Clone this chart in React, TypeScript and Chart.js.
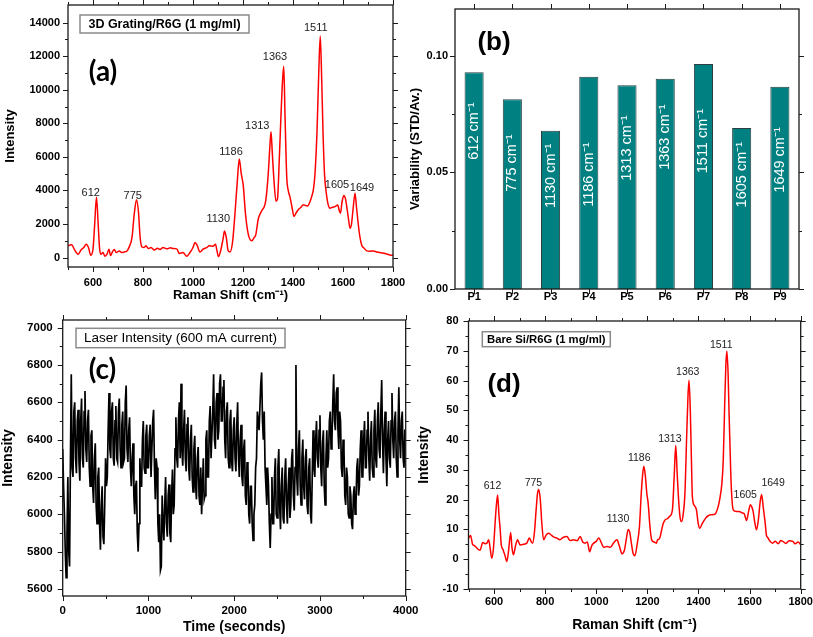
import React, { useEffect, useRef } from "react";
import { Chart, registerables } from "chart.js";

Chart.register(...registerables);

const SANS = "'Liberation Sans', Arial, Helvetica, sans-serif";
const CAL = "Lato, 'Open Sans', sans-serif";

// ---------------- (a) 3D grating spectrum ----------------
const gratingShift = [500, 508, 515, 525, 541, 552, 563, 573, 582, 591, 600, 606, 614, 620, 626, 631, 640, 648, 656, 664, 670, 678, 685, 693, 705, 715, 725, 735, 745, 756, 765, 774, 782, 788, 795, 805, 812, 821, 832, 845, 858, 868, 880, 895, 910, 921, 935, 945, 960, 975, 990, 1000, 1008, 1016, 1028, 1040, 1055, 1065, 1080, 1090, 1096, 1102, 1112, 1120, 1126, 1133, 1141, 1148, 1158, 1168, 1177, 1185, 1193, 1201, 1210, 1221, 1235, 1245, 1251, 1261, 1270, 1277, 1284, 1291, 1301, 1307, 1312, 1317, 1323, 1332, 1338, 1345, 1352, 1358, 1363, 1368, 1375, 1381, 1388, 1396, 1404, 1412, 1421, 1432, 1441, 1450, 1459, 1467, 1475, 1482, 1488, 1496, 1502, 1509, 1515, 1520, 1526, 1532, 1540, 1548, 1558, 1568, 1579, 1585, 1590, 1596, 1603, 1610, 1615, 1622, 1628, 1634, 1641, 1648, 1654, 1661, 1667, 1675, 1685, 1695, 1708, 1721, 1735, 1755, 1775, 1792, 1800];
const gratingIntensity = [700, 750, 760, 500, 200, 450, 600, 800, 600, 140, 500, 1800, 3600, 2200, 600, 200, 300, 80, 200, 500, 120, 350, 480, 300, 400, 300, 340, 380, 640, 1200, 2600, 3450, 2700, 1300, 650, 600, 700, 540, 600, 450, 550, 480, 600, 520, 580, 540, 520, 250, 300, 80, 350, 600, 900, 750, 340, 500, 600, 700, 680, 800, 400, 60, 500, 1100, 1580, 1200, 400, 340, 900, 2640, 4500, 5880, 5000, 4300, 2600, 1400, 1000, 1200, 1350, 2300, 2650, 2850, 3000, 3400, 5000, 6500, 7500, 6300, 4800, 3350, 3500, 5800, 8500, 10500, 11400, 8500, 4800, 4000, 3600, 3000, 2450, 2650, 2850, 3000, 3150, 3100, 3080, 3300, 3650, 4100, 5000, 7500, 10500, 13200, 10500, 7500, 5000, 4000, 3200, 2940, 3000, 3040, 3140, 2800, 2640, 3300, 3700, 3500, 3040, 2300, 1750, 2000, 3000, 3840, 3000, 2000, 1300, 740, 550, 400, 380, 400, 330, 280, 220, 140, 150];

const peakNames = ["612", "775", "1130", "1186", "1313", "1363", "1511", "1605", "1649"];
const gratingLabelShift = [591, 759, 1101, 1152, 1257, 1328, 1491, 1576, 1676];
const gratingLabelIntensity = [3840, 3680, 2300, 6280, 7840, 11940, 13680, 4300, 4140];

const shiftMajorTicks = [600, 800, 1000, 1200, 1400, 1600, 1800];
const shiftMinorTicks = [500, 700, 900, 1100, 1300, 1500, 1700];
const gratingMajorTicks = [0, 2000, 4000, 6000, 8000, 10000, 12000, 14000];
const gratingMinorTicks = [1000, 3000, 5000, 7000, 9000, 11000, 13000];

// ---------------- (b) variability ----------------
const positions = ["P1", "P2", "P3", "P4", "P5", "P6", "P7", "P8", "P9"];
const variability = [0.0929, 0.0813, 0.0678, 0.091, 0.0873, 0.0901, 0.0964, 0.069, 0.0867];
const barNames = ["612 cm⁻¹", "775 cm⁻¹", "1130 cm⁻¹", "1186 cm⁻¹", "1313 cm⁻¹", "1363 cm⁻¹", "1511 cm⁻¹", "1605 cm⁻¹", "1649 cm⁻¹"];
const barNameCenters = [0.0677, 0.054, 0.0485, 0.049, 0.0604, 0.0651, 0.0634, 0.049, 0.0553];
const variabilityMajorTicks = [0, 0.05, 0.1];
const variabilityMinorTicks = [0.025, 0.075];

// ---------------- (c) laser intensity (one reading every 10 s) ----------------
const laserStepSeconds = 10;
const laserIntensity = [
  6350, 6150, 6000, 5800, 5660, 5900, 6200, 5800, 5720, 6280, 6750, 6250, 6200, 6550, 6600, 6300, 6220, 6500, 6560, 6280,
  6180, 6500, 6620, 6300, 6250, 6550, 6660, 6350, 6280, 6500, 6560, 6250, 6150, 6420, 6450, 6150, 6060, 6300, 6380, 6050,
  5950, 6200, 6250, 5950, 5810, 6050, 6150, 5880, 5840, 6050, 6300, 6150, 6200, 6450, 6650, 6350, 6300, 6550, 6600, 6300,
  6260, 6500, 6580, 6300, 6280, 6550, 6620, 6350, 6250, 6480, 6550, 6280, 6300, 6600, 6690, 6350, 6280, 6450, 6520, 6250,
  6150, 6300, 6380, 6100, 6000, 6150, 6180, 5900, 5800, 5950, 6300, 6150, 6150, 6400, 6500, 6250, 6220, 6420, 6480, 6250,
  6250, 6420, 6480, 6200, 6200, 6500, 6560, 6250, 6080, 6300, 6250, 5950, 5850, 6000, 5700, 5720, 6100, 5950, 5860, 6050,
  6200, 5950, 5880, 6100, 6160, 5900, 5850, 6100, 6240, 6000, 6050, 6350, 6520, 6300, 6250, 6500, 6600, 6300, 6700, 6350,
  6260, 6450, 6560, 6300, 6230, 6480, 6520, 6250, 6180, 6400, 6480, 6200, 6120, 6350, 6420, 6150, 6080, 6300, 6360, 6100,
  6050, 6250, 6000, 6150, 6300, 6080, 6100, 6400, 6450, 6200, 6200, 6500, 6580, 6300, 6300, 6550, 6750, 6400, 6350, 6600,
  6650, 6400, 6450, 6700, 6750, 6500, 6500, 6680, 6720, 6400, 6300, 6550, 6600, 6300, 6250, 6500, 6560, 6280, 6230, 6450,
  6520, 6300, 6230, 6480, 6600, 6300, 6200, 6400, 6480, 6200, 6150, 6350, 6400, 6100, 6050, 6280, 6250, 6000, 5950, 6150,
  6150, 5950, 5860, 6000, 6050, 6250, 6300, 6550, 6500, 6450, 6450, 6700, 6760, 6500, 6400, 6550, 6250, 6150, 6050, 6250,
  6150, 5950, 5820, 6000, 6200, 5950, 5950, 6200, 6300, 6000, 5980, 6250, 6350, 6050, 5920, 6150, 6250, 5980, 5950, 6200,
  6300, 6050, 5950, 6150, 6250, 5980, 6050, 6300, 6350, 6100, 6020, 6250, 6800, 6200, 6100, 6350, 6450, 6150, 6050, 6300,
  6400, 6150, 6080, 6300, 6350, 6050, 6000, 6250, 6300, 6000, 5950, 6200, 6450, 6250, 6200, 6400, 6500, 6300, 6250, 6450,
  6530, 6250, 6150, 6380, 6450, 6150, 6050, 6300, 6450, 6250, 6300, 6500, 6550, 6350, 6400, 6600, 6750, 6500, 6450, 6650,
  6680, 6450, 6350, 6550, 6500, 6250, 6200, 6400, 6350, 6100, 6050, 6250, 6200, 6000, 5980, 6150, 6100, 5950, 5920, 6100,
  6150, 6000, 6050, 6250, 6300, 6100, 6150, 6350, 6450, 6200, 6200, 6400, 6500, 6250, 6250, 6450, 6550, 6300, 6180, 6400,
  6500, 6250, 6200, 6450, 6560, 6300, 6250, 6500, 6600, 6350, 6300, 6550, 6720, 6400, 6220, 6450, 6550, 6300, 6150, 6400,
  6500, 6300, 6250, 6500, 6650, 6400, 6300, 6500, 6550, 6300, 6200, 6450, 6680, 6400, 6300, 6500, 6550, 6300, 6250, 6450,
  6450,
];
const timeMajorTicks = [0, 1000, 2000, 3000, 4000];
const timeMinorTicks = [500, 1500, 2500, 3500];
const laserMajorTicks = [5600, 5800, 6000, 6200, 6400, 6600, 6800, 7000];
const laserMinorTicks = [5700, 5900, 6100, 6300, 6500, 6700, 6900];

// ---------------- (d) bare Si spectrum ----------------
const bareShift = [500, 508, 516, 525, 535, 545, 556, 565, 572, 579, 585, 591, 598, 604, 609, 614, 619, 624, 628, 634, 642, 650, 657, 665, 670, 676, 684, 692, 702, 715, 728, 738, 745, 751, 758, 765, 770, 775, 781, 787, 794, 803, 813, 825, 835, 846, 858, 870, 885, 898, 911, 925, 937, 947, 957, 965, 974, 982, 990, 1000, 1010, 1020, 1029, 1042, 1055, 1068, 1081, 1090, 1101, 1110, 1118, 1125, 1131, 1138, 1144, 1151, 1160, 1169, 1176, 1181, 1186, 1192, 1198, 1203, 1210, 1217, 1226, 1235, 1240, 1245, 1250, 1256, 1262, 1269, 1278, 1287, 1298, 1305, 1311, 1317, 1324, 1329, 1334, 1340, 1347, 1354, 1359, 1363, 1368, 1372, 1376, 1384, 1392, 1399, 1405, 1415, 1428, 1438, 1448, 1458, 1468, 1478, 1485, 1491, 1497, 1502, 1507, 1511, 1516, 1520, 1523, 1528, 1536, 1548, 1559, 1570, 1579, 1588, 1596, 1603, 1609, 1614, 1620, 1627, 1634, 1641, 1647, 1654, 1661, 1666, 1671, 1680, 1690, 1700, 1712, 1722, 1730, 1742, 1755, 1769, 1778, 1790, 1800];
const bareIntensity = [7, 8, 5, 4.5, 3.5, 3, 5.6, 5.2, 5.4, 6.5, 3.5, 0.3, 4, 12, 18, 21.6, 15, 10, 5, 3.4, 1.5, -0.8, 3, 9, 4, 1.5, 4.5, 6.5, 4.8, 5, 5.4, 7.1, 6, 5.4, 9, 17, 22, 23.4, 20, 12, 6.5, 8, 8.7, 8, 7.4, 7.1, 6.5, 7.3, 7.6, 6.3, 6.5, 6.2, 7.6, 5.8, 5.4, 5.8, 2.5, 4.5, 5.4, 6, 7.1, 5.5, 4, 4.3, 4, 5.5, 6.5, 4.5, 1.8, 3, 7, 10, 9, 5, 2, 1.2, 5, 11, 22, 28, 31.2, 28, 22, 18.9, 11, 6.5, 5.8, 5.4, 6.5, 6.7, 7.5, 9.9, 12, 13.2, 13.6, 14.4, 16.6, 28, 38.2, 28, 17.7, 13.5, 12.7, 15, 22.2, 42, 55, 60.1, 50, 35, 21.1, 18, 16.6, 12, 10.4, 12, 13.8, 14.6, 14.9, 15, 15.5, 18, 21.1, 25, 33.4, 50, 65, 69.9, 62, 48, 39.1, 25, 16.6, 16, 16, 15.6, 15.3, 13, 16, 18.3, 17.5, 16, 12.5, 9.9, 13, 19, 21.7, 17, 12.2, 8, 7.3, 6, 5.4, 6, 5.2, 6.3, 6, 5.3, 6.2, 6, 5.2, 5.8, 4.8];
const bareLabelShift = [594, 754, 1085, 1168, 1288, 1358, 1489, 1583, 1692];
const bareLabelIntensity = [24.7, 25.5, 13.5, 33.8, 40.4, 62.8, 71.9, 21.4, 25.4];
const bareMajorTicks = [-10, 0, 10, 20, 30, 40, 50, 60, 70, 80];
const bareMinorTicks = [-5, 5, 15, 25, 35, 45, 55, 65, 75];

// ---------------- helpers ----------------
type AxisCfg = {
  min: number;
  max: number;
  ticks: number[];
  size: number;
  labelPad: number;
  title: string;
  titlePad: number;
  fontSize?: number;
  titleSize?: number;
  fmt?: (v: number) => string;
};

function xLinear(c: AxisCfg): any {
  return {
    type: "linear",
    position: "bottom",
    min: c.min,
    max: c.max,
    grid: { display: false, drawTicks: false },
    border: { display: false },
    ticks: {
      color: "#000",
      padding: c.labelPad,
      autoSkip: false,
      maxRotation: 0,
      font: { family: SANS, size: c.fontSize ?? 11, weight: "bold" },
      callback: (v: number) => (c.fmt ? c.fmt(v) : String(v)),
    },
    title: {
      display: true,
      text: c.title,
      color: "#000",
      font: { family: SANS, size: c.titleSize ?? 13, weight: "bold" },
      padding: { top: 0, bottom: c.titlePad },
    },
    afterBuildTicks: (s: any) => {
      s.ticks = c.ticks.map((v) => ({ value: v }));
    },
    afterFit: (s: any) => {
      s.height = c.size;
      s.paddingLeft = 0;
      s.paddingRight = 0;
    },
  };
}

function yLinear(c: AxisCfg): any {
  return {
    type: "linear",
    position: "left",
    min: c.min,
    max: c.max,
    grid: { display: false, drawTicks: false },
    border: { display: false },
    ticks: {
      color: "#000",
      padding: c.labelPad,
      autoSkip: false,
      font: { family: SANS, size: c.fontSize ?? 11, weight: "bold" },
      callback: (v: number) => (c.fmt ? c.fmt(v) : String(v)),
    },
    title: {
      display: true,
      text: c.title,
      color: "#000",
      font: { family: SANS, size: c.titleSize ?? 13, weight: "bold" },
      padding: { top: c.titlePad, bottom: 0 },
    },
    afterBuildTicks: (s: any) => {
      s.ticks = c.ticks.map((v) => ({ value: v }));
    },
    afterFit: (s: any) => {
      s.width = c.size;
      s.paddingTop = 0;
      s.paddingBottom = 0;
    },
  };
}

type FrameCfg = { xMajor: number[]; xMinor: number[]; yMajor: number[]; yMinor: number[] };

function makeFrame(f: FrameCfg) {
  return {
    id: "frame",
    afterDatasetsDraw(chart: any) {
      const { ctx, chartArea: a, scales } = chart;
      const xs = scales.x;
      const ys = scales.y;
      ctx.save();
      ctx.strokeStyle = "#1a1a1a";
      ctx.lineWidth = 1.3;
      ctx.strokeRect(a.left, a.top, a.right - a.left, a.bottom - a.top);
      ctx.lineWidth = 1;
      ctx.beginPath();
      const xt = (vals: number[], len: number) => {
        vals.forEach((v) => {
          const p = Math.round(xs.getPixelForValue(v)) + 0.5;
          ctx.moveTo(p, a.bottom);
          ctx.lineTo(p, a.bottom + len);
          ctx.moveTo(p, a.top);
          ctx.lineTo(p, a.top - len);
        });
      };
      const yt = (vals: number[], len: number) => {
        vals.forEach((v) => {
          const p = Math.round(ys.getPixelForValue(v)) + 0.5;
          ctx.moveTo(a.left, p);
          ctx.lineTo(a.left - len, p);
          ctx.moveTo(a.right, p);
          ctx.lineTo(a.right + len, p);
        });
      };
      xt(f.xMajor, 5);
      xt(f.xMinor, 3);
      yt(f.yMajor, 5);
      yt(f.yMinor, 3);
      ctx.stroke();
      ctx.restore();
    },
  };
}

type DecoCfg = {
  box?: { x: number; y: number; w: number; h: number; text: string; font: string };
  letter?: { x: number; y: number; text: string; font: string };
  labels?: { texts: string[]; xs: number[]; ys: number[]; font: string; color: string };
  barTexts?: { texts: string[]; ys: number[]; font: string };
};

function makeDeco(d: DecoCfg) {
  return {
    id: "deco",
    afterDatasetsDraw(chart: any) {
      const { ctx, scales } = chart;
      ctx.save();
      ctx.textAlign = "center";
      ctx.textBaseline = "middle";
      if (d.labels) {
        const l = d.labels;
        ctx.font = l.font;
        ctx.fillStyle = l.color;
        l.texts.forEach((t, i) => {
          ctx.fillText(t, scales.x.getPixelForValue(l.xs[i]), scales.y.getPixelForValue(l.ys[i]));
        });
      }
      if (d.barTexts) {
        const b = d.barTexts;
        ctx.font = b.font;
        ctx.fillStyle = "#ffffff";
        b.texts.forEach((t, i) => {
          ctx.save();
          ctx.translate(scales.x.getPixelForValue(i), scales.y.getPixelForValue(b.ys[i]));
          ctx.rotate(-Math.PI / 2);
          ctx.fillText(t, 0, 0);
          ctx.restore();
        });
      }
      if (d.box) {
        const b = d.box;
        ctx.fillStyle = "#ffffff";
        ctx.fillRect(b.x, b.y, b.w, b.h);
        ctx.strokeStyle = "#8a8a8a";
        ctx.lineWidth = 1.5;
        ctx.strokeRect(b.x, b.y, b.w, b.h);
        ctx.fillStyle = "#000";
        ctx.font = b.font;
        ctx.fillText(b.text, b.x + b.w / 2, b.y + b.h / 2 + 0.5);
      }
      if (d.letter) {
        const t = d.letter;
        ctx.fillStyle = "#000";
        ctx.font = t.font;
        ctx.fillText(t.text, t.x, t.y);
      }
      ctx.restore();
    },
  };
}

const baseOptions = (padding: any) => ({
  responsive: false,
  maintainAspectRatio: false,
  animation: false as const,
  devicePixelRatio: 1,
  events: [] as any[],
  layout: { padding, autoPadding: false },
  plugins: { legend: { display: false }, tooltip: { enabled: false }, title: { display: false } },
});

// ---------------- chart configs ----------------
function configA(): any {
  return {
    type: "line",
    data: {
      datasets: [
        {
          data: gratingShift.map((x, i) => ({ x, y: gratingIntensity[i] })),
          borderColor: "#ff0000",
          borderWidth: 1.5,
          pointRadius: 0,
          cubicInterpolationMode: "monotone",
          fill: false,
        },
      ],
    },
    options: {
      ...baseOptions({ left: 0, top: 5, right: 12, bottom: 0 }),
      scales: {
        x: xLinear({ min: 500, max: 1800, ticks: shiftMajorTicks, size: 38, labelPad: 9, title: "Raman Shift (cm⁻¹)", titlePad: 1.7 }),
        y: yLinear({ min: -560, max: 15050, ticks: gratingMajorTicks, size: 68, labelPad: 8, title: "Intensity", titlePad: 2.2 }),
      },
    },
    plugins: [
      makeFrame({ xMajor: shiftMajorTicks, xMinor: shiftMinorTicks, yMajor: gratingMajorTicks, yMinor: gratingMinorTicks }),
      makeDeco({
        box: { x: 80, y: 15, w: 169, h: 18, text: "3D Grating/R6G (1 mg/ml)", font: `bold 12.5px ${SANS}` },
        letter: { x: 103, y: 72, text: "(a)", font: `bold 28px ${CAL}` },
        labels: { texts: peakNames, xs: gratingLabelShift, ys: gratingLabelIntensity, font: `11px ${SANS}`, color: "#222" },
      }),
    ],
  };
}

function configB(): any {
  return {
    type: "bar",
    data: {
      labels: positions,
      datasets: [
        {
          data: variability,
          backgroundColor: "#008080",
          borderColor: "#2c3e3e",
          borderWidth: 1,
          barPercentage: 0.5,
          categoryPercentage: 1.0,
        },
      ],
    },
    options: {
      ...baseOptions({ left: 0, top: 9, right: 14, bottom: 0 }),
      scales: {
        x: {
          type: "category",
          position: "bottom",
          offset: true,
          grid: { display: false, drawTicks: false },
          border: { display: false },
          ticks: { color: "#000", padding: 1, font: { family: SANS, size: 11, weight: "bold" } },
          afterFit: (s: any) => {
            s.height = 16;
            s.paddingLeft = 0;
            s.paddingRight = 0;
          },
        },
        y: yLinear({
          min: 0,
          max: 0.12,
          ticks: variabilityMajorTicks,
          size: 50,
          labelPad: 7,
          title: "Variability (STD/Av.)",
          titlePad: 2.2,
          fmt: (v) => v.toFixed(2),
        }),
      },
    },
    plugins: [
      makeFrame({ xMajor: [0, 1, 2, 3, 4, 5, 6, 7, 8], xMinor: [], yMajor: variabilityMajorTicks, yMinor: variabilityMinorTicks }),
      makeDeco({
        letter: { x: 89, y: 43, text: "(b)", font: `bold 26px ${SANS}` },
        barTexts: { texts: barNames, ys: barNameCenters, font: `14.5px ${SANS}` },
      }),
    ],
  };
}

function configC(): any {
  return {
    type: "line",
    data: {
      datasets: [
        {
          data: laserIntensity.map((y, i) => ({ x: i * laserStepSeconds, y })),
          borderColor: "#000000",
          borderWidth: 1.7,
          pointRadius: 0,
          tension: 0,
          fill: false,
        },
      ],
    },
    options: {
      ...baseOptions({ left: 0, top: 15, right: 14.3, bottom: 0 }),
      scales: {
        x: xLinear({ min: 0, max: 4000, ticks: timeMajorTicks, size: 41, labelPad: 8, title: "Time (seconds)", titlePad: 1.9, fontSize: 11.5, titleSize: 14 }),
        y: yLinear({ min: 5562, max: 7041, ticks: laserMajorTicks, size: 62.7, labelPad: 10, title: "Intensity", titlePad: 0, fontSize: 11.5, titleSize: 14 }),
      },
    },
    plugins: [
      makeFrame({ xMajor: timeMajorTicks, xMinor: timeMinorTicks, yMajor: laserMajorTicks, yMinor: laserMinorTicks }),
      makeDeco({
        box: { x: 76, y: 23.3, w: 209, h: 19.4, text: "Laser Intensity (600 mA current)", font: `13.5px ${SANS}` },
        letter: { x: 102.5, y: 64.5, text: "(c)", font: `bold 28px ${CAL}` },
      }),
    ],
  };
}

function configD(): any {
  return {
    type: "line",
    data: {
      datasets: [
        {
          data: bareShift.map((x, i) => ({ x, y: bareIntensity[i] })),
          borderColor: "#ff0000",
          borderWidth: 1.5,
          pointRadius: 0,
          cubicInterpolationMode: "monotone",
          fill: false,
        },
      ],
    },
    options: {
      ...baseOptions({ left: 0, top: 16, right: 12.3, bottom: 0 }),
      scales: {
        x: xLinear({ min: 500, max: 1800, ticks: shiftMajorTicks, size: 48, labelPad: 6.7, title: "Raman Shift (cm⁻¹)", titlePad: 3.5, titleSize: 14 }),
        y: yLinear({ min: -10, max: 80, ticks: bareMajorTicks, size: 63.5, labelPad: 10, title: "Intensity", titlePad: 11, titleSize: 14 }),
      },
    },
    plugins: [
      makeFrame({ xMajor: shiftMajorTicks, xMinor: shiftMinorTicks, yMajor: bareMajorTicks, yMinor: bareMinorTicks }),
      makeDeco({
        box: { x: 77.3, y: 26.7, w: 128, h: 15, text: "Bare Si/R6G (1 mg/ml)", font: `bold 11.3px ${SANS}` },
        letter: { x: 99, y: 80, text: "(d)", font: `bold 26px ${SANS}` },
        labels: { texts: peakNames, xs: bareLabelShift, ys: bareLabelIntensity, font: `10.5px ${SANS}`, color: "#222" },
      }),
    ],
  };
}

function Panel(props: { left: number; top: number; width: number; height: number; make: () => any }) {
  const ref = useRef<HTMLCanvasElement>(null);
  useEffect(() => {
    const chart = new Chart(ref.current as HTMLCanvasElement, props.make());
    return () => chart.destroy();
  }, []);
  return (
    <canvas
      ref={ref}
      width={props.width}
      height={props.height}
      style={{ position: "absolute", left: props.left, top: props.top, width: props.width, height: props.height }}
    />
  );
}

export default function App() {
  return (
    <div style={{ position: "absolute", left: 0, top: 0, width: 813, height: 637, background: "#ffffff", overflow: "hidden" }}>
      <Panel left={0} top={0} width={405} height={305} make={configA} />
      <Panel left={405} top={0} width={408} height={305} make={configB} />
      <Panel left={0} top={305} width={420} height={332} make={configC} />
      <Panel left={405} top={305} width={408} height={332} make={configD} />
    </div>
  );
}
